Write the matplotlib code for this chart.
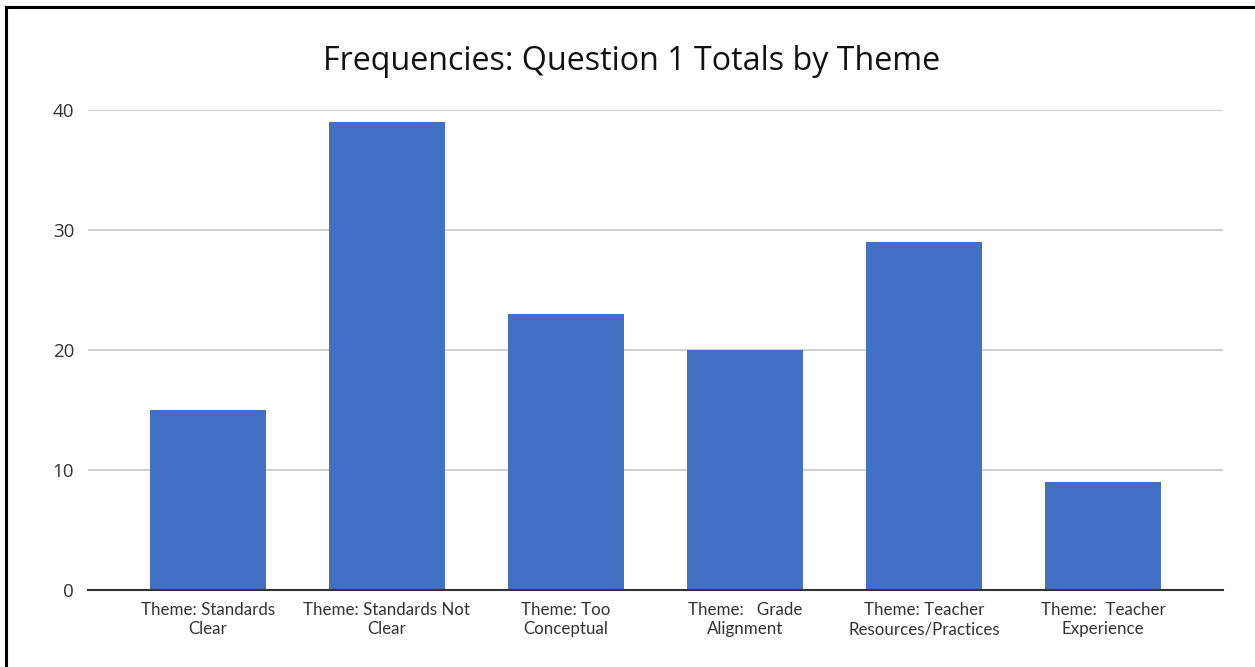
import matplotlib.pyplot as plt
from matplotlib.lines import Line2D

# chart data
themes = ["Theme: Standards\nClear", "Theme: Standards Not\nClear", "Theme: Too\nConceptual",
          "Theme:   Grade\nAlignment", "Theme: Teacher\nResources/Practices", "Theme:  Teacher\nExperience"]
totals = [15, 39, 23, 20, 29, 9]
yticks = [0, 10, 20, 30, 40]

fig = plt.figure(figsize=(12.55, 6.67), dpi=100)
ax = fig.add_axes([88 / 1255, 77 / 667, (1223 - 88) / 1255, 480 / 667])

x = range(len(themes))
ax.bar(x, totals, width=0.65, color="#4270c4", zorder=3)

ax.set_xlim(-0.67, 5.67)
ax.set_ylim(0, 40)
ax.set_yticks(yticks)
ax.grid(axis="y", color="#cccccc", linewidth=1.3, zorder=0)
ax.set_xticks(list(x))
ax.set_xticklabels(themes, fontsize=12.2, family="Lato", color="#333333", linespacing=1.25)
ax.tick_params(axis="x", length=0, pad=8.5)
ax.tick_params(axis="y", length=0, pad=10, labelsize=13.5, labelcolor="#333333")
for lbl in ax.get_yticklabels():
    lbl.set_family("Open Sans")

for side in ["top", "right", "left"]:
    ax.spines[side].set_visible(False)
ax.spines["bottom"].set_color("#333333")
ax.spines["bottom"].set_linewidth(1.5)
ax.spines["bottom"].set_zorder(4)

fig.text(632 / 1255, 1 - 61 / 667, "Frequencies: Question 1 Totals by Theme",
         ha="center", va="center", fontsize=23.2, family="Open Sans", color="#111111")

# frame around the figure (top and left visible)
fig.add_artist(Line2D([6 / 1255, 6 / 1255], [0, 1 - 7 / 667], color="black", linewidth=2.2,
                      transform=fig.transFigure))
fig.add_artist(Line2D([6 / 1255, 1], [1 - 7 / 667, 1 - 7 / 667], color="black", linewidth=2.2,
                      transform=fig.transFigure))

fig.savefig("out.png", dpi=100)
